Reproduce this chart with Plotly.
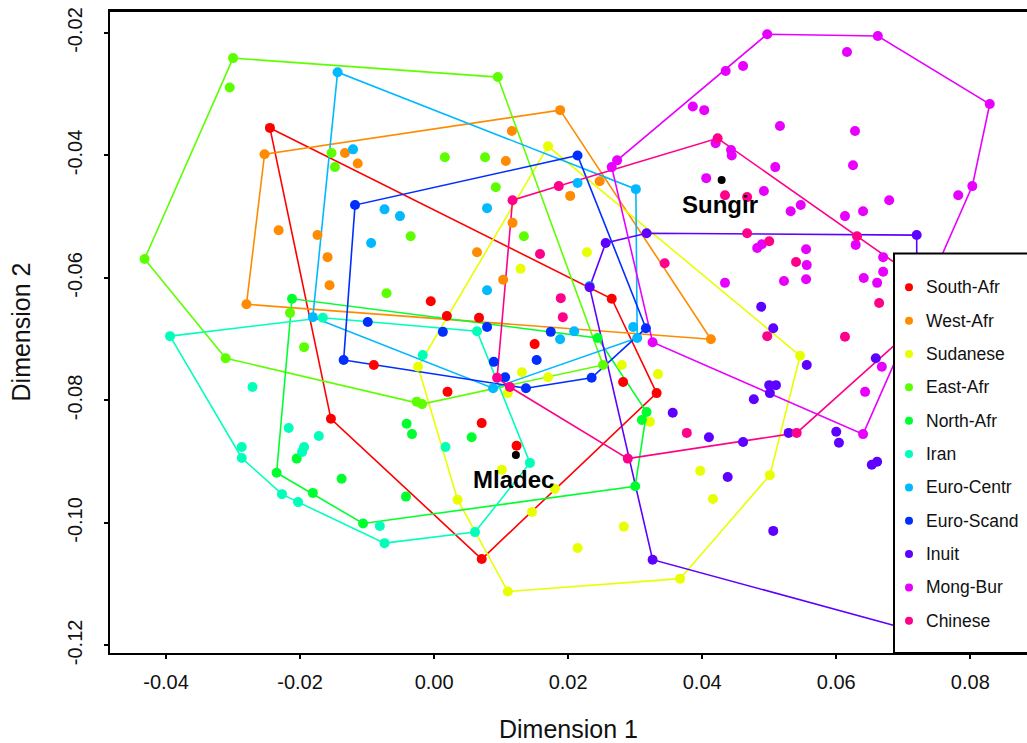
import plotly.graph_objects as go

# ---------------- data ----------------
groups = ["South-Afr", "West-Afr", "Sudanese", "East-Afr", "North-Afr", "Iran",
          "Euro-Centr", "Euro-Scand", "Inuit", "Mong-Bur", "Chinese"]
colors = ["#FF0000", "#FF8B00", "#E8FF00", "#5DFF00", "#00FF2E", "#00FFB9",
          "#00B9FF", "#002EFF", "#5D00FF", "#E800FF", "#FF008B"]

south_afr_x = [-0.0245, 0.0265, 0.0332, 0.0071, -0.0154, -0.0090, -0.0005, 0.0019, 0.0067, 0.0150, 0.0020, 0.0071, 0.0123, 0.0282]
south_afr_y = [-0.0355, -0.0634, -0.0788, -0.1059, -0.0830, -0.0742, -0.0638, -0.0662, -0.0665, -0.0708, -0.0786, -0.0837, -0.0874, -0.0770]

west_afr_x = [-0.0253, 0.0188, 0.0413, -0.0280, -0.0133, -0.0114, 0.0116, 0.0107, -0.0232, -0.0174, -0.0159, -0.0156, 0.0064, 0.0103, 0.0203, 0.0247, 0.0117]
west_afr_y = [-0.0398, -0.0326, -0.0700, -0.0643, -0.0396, -0.0413, -0.0360, -0.0409, -0.0522, -0.0530, -0.0566, -0.0612, -0.0558, -0.0603, -0.0466, -0.0442, -0.0510]

sudanese_x = [0.0170, -0.0024, 0.0035, 0.0110, 0.0367, 0.0501, 0.0546, 0.0228, 0.0129, 0.0280, 0.0334, 0.0131, 0.0170, 0.0110, 0.0322, 0.0101, 0.0180, 0.0146, 0.0283, 0.0214, 0.0397, 0.0416]
sudanese_y = [-0.0385, -0.0745, -0.0962, -0.1112, -0.1091, -0.0922, -0.0727, -0.0558, -0.0585, -0.0742, -0.0757, -0.0754, -0.0762, -0.0788, -0.0835, -0.0913, -0.0944, -0.0982, -0.1006, -0.1041, -0.0915, -0.0961]

east_afr_x = [-0.0300, 0.0095, 0.0252, -0.0026, -0.0018, -0.0311, -0.0432, -0.0305, -0.0153, -0.0148, 0.0016, 0.0076, 0.0092, -0.0035, 0.0134, -0.0071, -0.0215, -0.0194]
east_afr_y = [-0.0241, -0.0272, -0.0742, -0.0802, -0.0806, -0.0731, -0.0569, -0.0289, -0.0396, -0.0419, -0.0403, -0.0403, -0.0452, -0.0532, -0.0532, -0.0625, -0.0657, -0.0713]

north_afr_x = [-0.0212, 0.0244, 0.0317, 0.0310, 0.0300, -0.0106, -0.0181, -0.0235, -0.0205, -0.0138, -0.0042, -0.0041, -0.0033, 0.0056]
north_afr_y = [-0.0634, -0.0698, -0.0819, -0.0832, -0.0940, -0.1001, -0.0951, -0.0918, -0.0895, -0.0928, -0.0957, -0.0838, -0.0855, -0.0860]

iran_x = [-0.0394, -0.0166, 0.0064, 0.0143, 0.0061, -0.0074, -0.0203, -0.0227, -0.0287, -0.0287, -0.0271, -0.0217, -0.0172, -0.0194, -0.0197, -0.0081, 0.0017, -0.0017]
iran_y = [-0.0695, -0.0665, -0.0687, -0.0902, -0.1015, -0.1033, -0.0966, -0.0953, -0.0894, -0.0876, -0.0778, -0.0845, -0.0858, -0.0876, -0.0884, -0.1005, -0.0876, -0.0726]

euro_centr_x = [-0.0144, 0.0301, 0.0303, 0.0088, -0.0181, -0.0121, -0.0074, -0.0051, -0.0094, 0.0079, 0.0214, 0.0079, 0.0188, 0.0209, 0.0297, 0.0232]
euro_centr_y = [-0.0264, -0.0455, -0.0698, -0.0780, -0.0664, -0.0390, -0.0488, -0.0499, -0.0543, -0.0486, -0.0445, -0.0620, -0.0700, -0.0687, -0.0680, -0.0613]

euro_scand_x = [-0.0118, 0.0214, 0.0316, 0.0235, 0.0137, -0.0135, -0.0099, 0.0013, 0.0079, 0.0174, 0.0153, 0.0089, 0.0106]
euro_scand_y = [-0.0481, -0.0400, -0.0682, -0.0763, -0.0780, -0.0734, -0.0672, -0.0688, -0.0680, -0.0688, -0.0734, -0.0737, -0.0762]

inuit_x = [0.0256, 0.0317, 0.0720, 0.0722, 0.0326, 0.0232, 0.0488, 0.0506, 0.0556, 0.0659, 0.0500, 0.0510, 0.0501, 0.0477, 0.0356, 0.0410, 0.0461, 0.0529, 0.0600, 0.0604, 0.0653, 0.0661, 0.0438, 0.0506]
inuit_y = [-0.0543, -0.0527, -0.0530, -0.1178, -0.1060, -0.0615, -0.0647, -0.0682, -0.0742, -0.0731, -0.0775, -0.0775, -0.0788, -0.0798, -0.0820, -0.0860, -0.0868, -0.0853, -0.0851, -0.0869, -0.0905, -0.0900, -0.0925, -0.1013]

mong_bur_x = [0.0497, 0.0662, 0.0829, 0.0803, 0.0640, 0.0326, 0.0273, 0.0265, 0.0616, 0.0461, 0.0435, 0.0386, 0.0403, 0.0516, 0.0628, 0.0625, 0.0509, 0.0406, 0.0420, 0.0443, 0.0444, 0.0492, 0.0547, 0.0532, 0.0679, 0.0640, 0.0613, 0.0782, 0.0482, 0.0489, 0.0629, 0.0555, 0.0556, 0.0555, 0.0522, 0.0434, 0.0641, 0.0661, 0.0670, 0.0670, 0.0643, 0.0668]
mong_bur_y = [-0.0202, -0.0205, -0.0316, -0.0450, -0.0855, -0.0705, -0.0408, -0.0419, -0.0231, -0.0254, -0.0262, -0.0320, -0.0326, -0.0352, -0.0360, -0.0416, -0.0419, -0.0437, -0.0380, -0.0391, -0.0400, -0.0458, -0.0481, -0.0491, -0.0473, -0.0491, -0.0499, -0.0465, -0.0551, -0.0545, -0.0546, -0.0553, -0.0579, -0.0602, -0.0605, -0.0608, -0.0600, -0.0608, -0.0566, -0.0590, -0.0786, -0.0745]

chinese_x = [0.0117, 0.0423, 0.0631, 0.0764, 0.0541, 0.0289, 0.0094, 0.0113, 0.0434, 0.0467, 0.0467, 0.0500, 0.0344, 0.0540, 0.0664, 0.0613, 0.0497, 0.0186, 0.0158, 0.0189, 0.0192, 0.0377]
chinese_y = [-0.0473, -0.0372, -0.0532, -0.0634, -0.0853, -0.0895, -0.0763, -0.0778, -0.0465, -0.0468, -0.0527, -0.0540, -0.0576, -0.0574, -0.0641, -0.0696, -0.0695, -0.0450, -0.0561, -0.0633, -0.0664, -0.0853]

fossil_names = ["Sungir", "Mladec"]
fossil_x = [0.0429, 0.0122]
fossil_y = [-0.0440, -0.0889]

x_tickvals = [-0.04, -0.02, 0.00, 0.02, 0.04, 0.06, 0.08]
x_ticktext = ["-0.04", "-0.02", "0.00", "0.02", "0.04", "0.06", "0.08"]
y_tickvals = [-0.12, -0.10, -0.08, -0.06, -0.04, -0.02]
y_ticktext = ["-0.12", "-0.10", "-0.08", "-0.06", "-0.04", "-0.02"]

group_xs = [south_afr_x, west_afr_x, sudanese_x, east_afr_x, north_afr_x, iran_x,
            euro_centr_x, euro_scand_x, inuit_x, mong_bur_x, chinese_x]
group_ys = [south_afr_y, west_afr_y, sudanese_y, east_afr_y, north_afr_y, iran_y,
            euro_centr_y, euro_scand_y, inuit_y, mong_bur_y, chinese_y]


def convex_hull(xs, ys):
    pts = sorted(set(zip(xs, ys)))

    def cross(o, a, b):
        return (a[0] - o[0]) * (b[1] - o[1]) - (a[1] - o[1]) * (b[0] - o[0])

    lower = []
    for p in pts:
        while len(lower) >= 2 and cross(lower[-2], lower[-1], p) <= 0:
            lower.pop()
        lower.append(p)
    upper = []
    for p in reversed(pts):
        while len(upper) >= 2 and cross(upper[-2], upper[-1], p) <= 0:
            upper.pop()
        upper.append(p)
    h = lower[:-1] + upper[:-1]
    h.append(h[0])
    return [p[0] for p in h], [p[1] for p in h]


FONT = "Liberation Sans, Arial, sans-serif"
fig = go.Figure()

for name, col, xs, ys in zip(groups, colors, group_xs, group_ys):
    hx, hy = convex_hull(xs, ys)
    fig.add_trace(go.Scatter(x=hx, y=hy, mode="lines", line=dict(color=col, width=1.6),
                             hoverinfo="skip", showlegend=False))
for name, col, xs, ys in zip(groups, colors, group_xs, group_ys):
    fig.add_trace(go.Scatter(x=xs, y=ys, mode="markers", name=name,
                             marker=dict(color=col, size=10, line=dict(width=0)),
                             showlegend=False))

fig.add_trace(go.Scatter(x=fossil_x, y=fossil_y, mode="markers", name="fossils",
                         marker=dict(color="black", size=8), showlegend=False))
for nm, fx, fy in zip(fossil_names, fossil_x, fossil_y):
    fig.add_annotation(x=fx, y=fy, text="<b>%s</b>" % nm, showarrow=False,
                       xshift=-2, yshift=-25, font=dict(family=FONT, size=24, color="black"))

# plot-area geometry in page pixels (body margin removed below)
L, T, W, H = 110, 11, 917, 642
FIG_W, FIG_H = 1027, 743


def px(xp):
    return (xp - L) / W


def py(yp):
    return (T + H - yp) / H


shapes = []
# top frame line
shapes.append(dict(type="line", xref="paper", yref="paper", x0=0, x1=1, y0=1, y1=1,
                   line=dict(color="black", width=2), layer="above"))
# legend box
shapes.append(dict(type="rect", xref="paper", yref="paper", x0=px(894), x1=1.05,
                   y0=0, y1=py(253.5), fillcolor="white",
                   line=dict(color="black", width=2), layer="above"))
for i, (name, col) in enumerate(zip(groups, colors)):
    yy = py(287.3 + 33.35 * i)
    shapes.append(dict(type="circle", xref="paper", yref="paper", xsizemode="pixel",
                       ysizemode="pixel", xanchor=px(909), yanchor=yy,
                       x0=-4, x1=4, y0=-4, y1=4, fillcolor=col,
                       line=dict(width=0), layer="above"))
    fig.add_annotation(xref="paper", yref="paper", x=px(924), y=yy, text=name,
                       showarrow=False, xanchor="left", yanchor="middle",
                       font=dict(family=FONT, size=17.5, color="#111111"))

fig.update_layout(
    width=FIG_W, height=FIG_H,
    margin=dict(l=L, r=FIG_W - L - W, t=T, b=FIG_H - T - H, autoexpand=False),
    plot_bgcolor="white", paper_bgcolor="white",
    showlegend=False, shapes=shapes,
    font=dict(family=FONT, color="#111111"),
)
fig.update_xaxes(range=[-0.04836, 0.08846], showgrid=False, zeroline=False,
                 showline=True, mirror=True, linecolor="black", linewidth=2,
                 ticks="outside", ticklen=4, tickwidth=1.5, tickcolor="black",
                 tickvals=x_tickvals, ticktext=x_ticktext, automargin=False,
                 tickfont=dict(family=FONT, size=20, color="#111111"),
                 ticklabelstandoff=6, ticklabeloverflow="allow",
                 title=dict(text="Dimension 1", font=dict(family=FONT, size=25, color="#111111"),
                            standoff=30))
fig.update_yaxes(range=[-0.12124, -0.01641], showgrid=False, zeroline=False,
                 showline=True, linecolor="black", linewidth=2,
                 ticks="outside", ticklen=4, tickwidth=1.5, tickcolor="black",
                 tickvals=y_tickvals, ticktext=y_ticktext, tickangle=-90, automargin=False,
                 tickfont=dict(family=FONT, size=20, color="#111111"),
                 ticklabelstandoff=14, ticklabeloverflow="allow",
                 title=dict(text="Dimension 2", font=dict(family=FONT, size=25, color="#111111"),
                            standoff=26))

fig.write_html("out.html", config={"displayModeBar": False},
               post_script="document.body.style.margin='0px';")
